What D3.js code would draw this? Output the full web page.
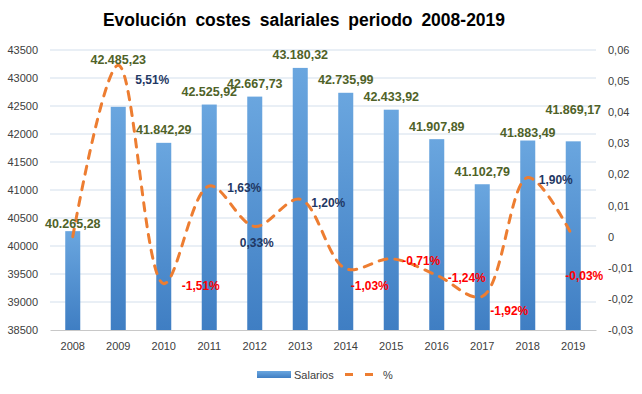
<!DOCTYPE html>
<html>
<head>
<meta charset="utf-8">
<script src="https://cdn.jsdelivr.net/npm/d3@7"></script>
<style>
  body { margin: 0; background: #fff; }
  svg { font-family: "Liberation Sans", Arial, sans-serif; }
  .tick text { fill: #404040; font-size: 11px; }
</style>
</head>
<body>
<svg id="chart" width="642" height="394"></svg>
<script>
// data
const years = ['2008','2009','2010','2011','2012','2013','2014','2015','2016','2017','2018','2019'];
const salarios = [40265.28, 42485.23, 41842.29, 42525.92, 42667.73, 43180.32, 42735.99, 42433.92, 41907.89, 41102.79, 41883.49, 41869.17];
const pct = [0, 0.0551, -0.0151, 0.0163, 0.0033, 0.0120, -0.0103, -0.0071, -0.0124, -0.0192, 0.0190, -0.0003];
const leftTicks = [38500, 39000, 39500, 40000, 40500, 41000, 41500, 42000, 42500, 43000, 43500];
const rightTicks = [-0.03, -0.02, -0.01, 0, 0.01, 0.02, 0.03, 0.04, 0.05, 0.06];

// label nudges (layout only), in px
const valueLabelDy = [-8, -47, -13, -13, -13, -13, -13, -13, -13, -13, -8, -32];
const pctLabelOffset = [null, [34, 15], [37, 2], [35, 2], [2, 16], [28, 3], [24, 17], [30, 2], [30, 3], [27, 14], [28, 2], [11, 38]];

const svg = d3.select('#chart');
const margin = { top: 50, right: 46, bottom: 64, left: 50 };
const width = +svg.attr('width');
const height = +svg.attr('height');
const innerWidth = width - margin.left - margin.right;
const innerHeight = height - margin.top - margin.bottom;

const fmtNum = d3.formatLocale({ decimal: ',', thousands: '.', grouping: [3], currency: ['', '€'], minus: '-' });
const valueFmt = fmtNum.format(',.2f');
const pctFmt = fmtNum.format('.2%');
const rightFmt = v => v === 0 ? '0' : fmtNum.format('.2f')(v);

const xScale = d3.scaleBand().domain(years).range([0, innerWidth]).paddingInner(0.67).paddingOuter(0.335);
const xCenter = d3.scalePoint().domain(years).range([0, innerWidth]).padding(0.5);
const yLeft = d3.scaleLinear().domain([38500, 43500]).range([innerHeight, 0]);
const yRight = d3.scaleLinear().domain([-0.03, 0.06]).range([innerHeight, 0]);

const defs = svg.append('defs');
const grad = defs.append('linearGradient').attr('id', 'barGrad')
  .attr('x1', 0).attr('y1', 0).attr('x2', 0).attr('y2', 1);
grad.append('stop').attr('offset', '0%').attr('stop-color', '#6aa6df');
grad.append('stop').attr('offset', '100%').attr('stop-color', '#3f7ec3');

// title
svg.append('text')
  .attr('x', 304).attr('y', 26)
  .attr('text-anchor', 'middle')
  .attr('font-size', 17.5).attr('font-weight', 'bold')
  .attr('word-spacing', 4)
  .attr('fill', '#000')
  .text('Evolución costes salariales periodo 2008-2019');

const g = svg.append('g').attr('transform', `translate(${margin.left},${margin.top})`);

// gridlines
g.append('g')
  .selectAll('line').data(leftTicks.slice(1)).join('line')
  .attr('x1', 0).attr('x2', innerWidth)
  .attr('y1', d => yLeft(d)).attr('y2', d => yLeft(d))
  .attr('stroke', '#d3dfec').attr('stroke-width', 1);

// left axis
const yAxisL = g.append('g')
  .call(d3.axisLeft(yLeft).tickValues(leftTicks).tickSize(0).tickPadding(12).tickFormat(d3.format('d')));
yAxisL.select('.domain').remove();

// right axis
const yAxisR = g.append('g')
  .attr('transform', `translate(${innerWidth},0)`)
  .call(d3.axisRight(yRight).tickValues(rightTicks).tickSize(0).tickPadding(12).tickFormat(rightFmt));
yAxisR.select('.domain').remove();

// bars
g.selectAll('.bar').data(salarios).join('rect')
  .attr('class', 'bar')
  .attr('x', (d, i) => xScale(years[i]))
  .attr('width', xScale.bandwidth())
  .attr('y', d => yLeft(d))
  .attr('height', d => innerHeight - yLeft(d))
  .attr('fill', 'url(#barGrad)');

// bottom axis
const xAxisG = g.append('g')
  .attr('transform', `translate(0,${innerHeight})`)
  .call(d3.axisBottom(xScale).tickSize(0).tickPadding(12));
xAxisG.select('.domain').attr('stroke', '#c8c8c8');

// percent line
const line = d3.line()
  .x((d, i) => xCenter(years[i]))
  .y(d => yRight(d))
  .curve(d3.curveCatmullRom.alpha(0.5));

g.append('path')
  .datum(pct)
  .attr('d', line)
  .attr('fill', 'none')
  .attr('stroke', '#ed7d31')
  .attr('stroke-width', 3)
  .attr('stroke-dasharray', '8,8')
  .attr('stroke-linecap', 'round');

// value labels
g.selectAll('.vlabel').data(salarios).join('text')
  .attr('class', 'vlabel')
  .attr('x', (d, i) => xCenter(years[i]))
  .attr('y', (d, i) => yLeft(d) + valueLabelDy[i])
  .attr('dy', '0.35em')
  .attr('text-anchor', 'middle')
  .attr('font-size', 12.5).attr('font-weight', 'bold')
  .attr('fill', '#4f6228')
  .text(d => valueFmt(d));

// percent labels (2008 has none)
const pctPoints = pct.map((v, i) => ({ v, i })).filter(p => pctLabelOffset[p.i] !== null);
g.selectAll('.plabel').data(pctPoints).join('text')
  .attr('class', 'plabel')
  .attr('x', p => xCenter(years[p.i]) + pctLabelOffset[p.i][0])
  .attr('y', p => yRight(p.v) + pctLabelOffset[p.i][1])
  .attr('dy', '0.35em')
  .attr('text-anchor', 'middle')
  .attr('font-size', 12).attr('font-weight', 'bold')
  .attr('fill', p => p.v < 0 ? '#ff0000' : '#1f3864')
  .text(p => pctFmt(p.v));

// legend
const legend = svg.append('g').attr('transform', 'translate(257,371)');
legend.append('rect').attr('width', 34).attr('height', 7).attr('fill', 'url(#barGrad)');
legend.append('text').attr('x', 37).attr('y', 8).attr('font-size', 11).attr('fill', '#404040').text('Salarios');
legend.append('line')
  .attr('x1', 88).attr('x2', 120).attr('y1', 3.5).attr('y2', 3.5)
  .attr('stroke', '#ed7d31').attr('stroke-width', 3).attr('stroke-dasharray', '8,12');
legend.append('text').attr('x', 126).attr('y', 8).attr('font-size', 11).attr('fill', '#404040').text('%');
</script>
</body>
</html>
